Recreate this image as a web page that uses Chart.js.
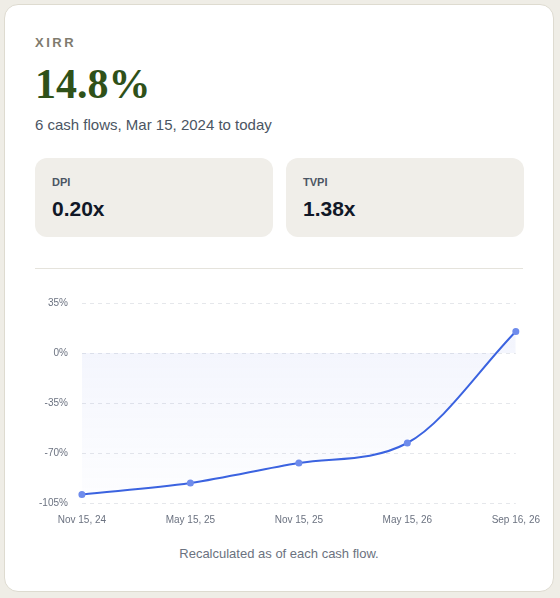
<!DOCTYPE html>
<html><head><meta charset="utf-8">
<script src="https://cdn.jsdelivr.net/npm/chart.js@4"></script>
<style>
body{margin:0;background:#efede6;font-family:"Liberation Sans",Arial,sans-serif;}
.card{position:absolute;left:4px;top:4px;width:550px;height:588px;background:#fff;border:1px solid #dedbd0;border-radius:14px;box-sizing:border-box;}
.lbl{position:absolute;left:30px;top:30px;font-size:13px;font-weight:bold;letter-spacing:2.5px;color:#807b6e;}
.big{position:absolute;left:30px;top:55px;font-family:"Liberation Serif",serif;font-weight:bold;font-size:42px;color:#2f5119;}
.sub{position:absolute;left:30px;top:111px;font-size:15px;color:#4b5563;}
.box{position:absolute;top:153px;width:238px;height:79px;background:#f0eee9;border-radius:12px;}
.box .t{position:absolute;left:17px;top:18px;font-size:11px;font-weight:bold;color:#4b5563;}
.box .v{position:absolute;left:17px;top:39px;font-size:21px;font-weight:bold;color:#111827;}
.hr{position:absolute;left:30px;right:30px;top:263px;border-top:1px solid #e5e3dc;}
.wrap{position:absolute;left:20px;top:278px;width:518px;height:246px;}
.cap{position:absolute;left:0;right:0;top:541px;text-align:center;font-size:13px;color:#6b7280;}
</style></head><body>
<div class="card">
<div class="lbl">XIRR</div>
<div class="big">14.8%</div>
<div class="sub">6 cash flows, Mar 15, 2024 to today</div>
<div class="box" style="left:30px"><div class="t">DPI</div><div class="v">0.20x</div></div>
<div class="box" style="left:281px"><div class="t">TVPI</div><div class="v">1.38x</div></div>
<div class="hr"></div>
<div class="wrap"><canvas id="c"></canvas></div>
<div class="cap">Recalculated as of each cash flow.</div>
</div>
<script>
const labels = ['Nov 15, 24', 'May 15, 25', 'Nov 15, 25', 'May 15, 26', 'Sep 16, 26'];
const xirrValues = [-99, -91, -77, -63, 15];
const yTicks = [35, 0, -35, -70, -105];

function fillGradient(ctx) {
  const area = ctx.chart.chartArea;
  if (!area) return 'rgba(99,125,230,0.06)';
  const g = ctx.chart.ctx.createLinearGradient(0, area.top, 0, area.bottom);
  g.addColorStop(0, 'rgba(99,125,230,0.09)');
  g.addColorStop(1, 'rgba(99,125,230,0.01)');
  return g;
}

new Chart(document.getElementById('c'), {
  type: 'line',
  data: {
    labels: labels,
    datasets: [{
      data: xirrValues,
      borderColor: '#3b63e0',
      borderWidth: 2,
      backgroundColor: fillGradient,
      fill: 'origin',
      cubicInterpolationMode: 'monotone',
      pointRadius: 2.5,
      pointBackgroundColor: '#6f8cec',
      pointBorderColor: '#6f8cec'
    }]
  },
  options: {
    responsive: true,
    maintainAspectRatio: false,
    animation: false,
    plugins: { legend: { display: false }, tooltip: { enabled: false } },
    scales: {
      x: {
        offset: false,
        grid: { display: false },
        border: { display: false },
        ticks: { color: '#6b7280', font: { size: 10 }, maxRotation: 0 }
      },
      y: {
        min: -105, max: 35,
        afterBuildTicks: s => { s.ticks = yTicks.map(v => ({ value: v })); },
        grid: { color: '#e5e7eb', drawTicks: false },
        border: { display: false, dash: [4, 4] },
        ticks: { color: '#6b7280', font: { size: 10 }, padding: 14, callback: v => v + '%' }
      }
    }
  }
});
</script>
</body></html>
